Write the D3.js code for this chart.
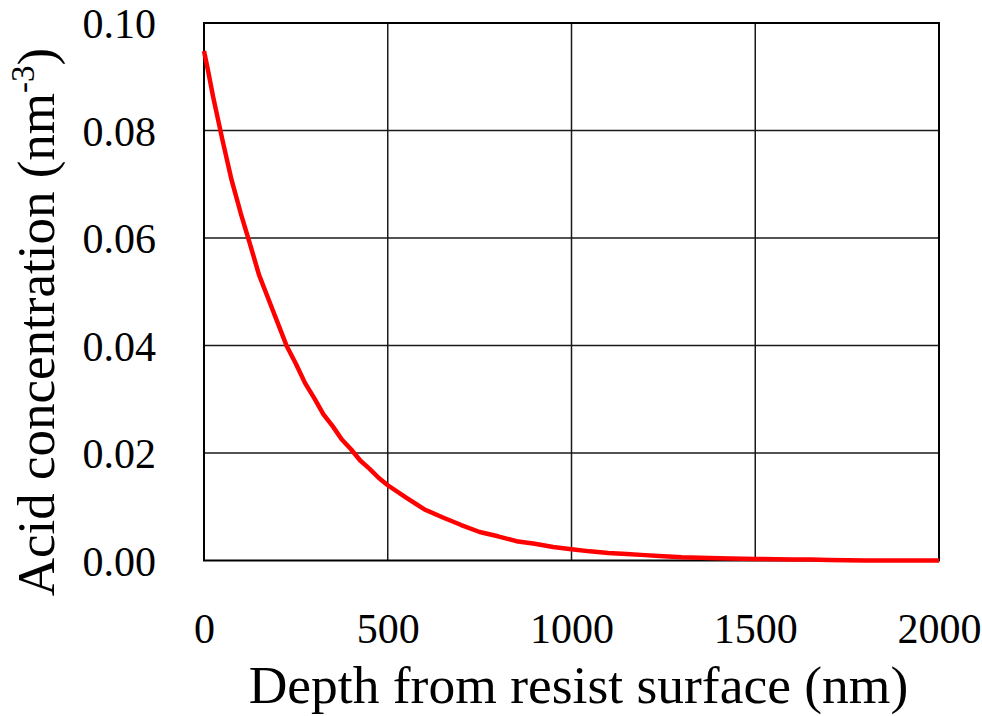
<!DOCTYPE html>
<html>
<head>
<meta charset="utf-8">
<script src="https://cdn.jsdelivr.net/npm/d3@7/dist/d3.min.js"></script>
<style>
  html, body { margin: 0; padding: 0; background: #fff; }
  svg { display: block; }
  text { font-family: "Liberation Serif", "Times New Roman", serif; fill: #000; }
</style>
</head>
<body>
<svg id="chart" width="982" height="716"></svg>
<script>
// Depth profile of acid concentration below the resist surface
const depthNm = [0, 10, 25, 50, 75, 100, 125, 150, 175, 200, 225, 250, 275, 300, 325, 350, 375, 400,
  425, 450, 475, 500, 550, 600, 650, 700, 750, 800, 850, 900, 950, 1000, 1050, 1100, 1150, 1200,
  1250, 1300, 1350, 1400, 1500, 1600, 1650, 1700, 1800, 1900, 2000];
const acidConc = [0.0948, 0.0915, 0.0862, 0.0783, 0.0708, 0.0646, 0.0589, 0.0531, 0.0487, 0.0443,
  0.0399, 0.0366, 0.0330, 0.0302, 0.0272, 0.0250, 0.0225, 0.0207, 0.0186, 0.0171, 0.0154, 0.0140,
  0.0117, 0.0095, 0.0080, 0.0066, 0.0053, 0.0045, 0.0036, 0.0031, 0.0025, 0.0021, 0.0017, 0.0014,
  0.0012, 0.0010, 0.0008, 0.0006, 0.0005, 0.0004, 0.0003, 0.0002, 0.0002, 0.0001, 0.0000, 0.0000, 0.0000];

const xTicks = [0, 500, 1000, 1500, 2000];
const yTicks = [0.00, 0.02, 0.04, 0.06, 0.08, 0.10];
const xTitle = "Depth from resist surface (nm)";
const yTitleMain = "Acid concentration (nm";
const yTitleSup = "-3";
const yTitleEnd = ")";

const svg = d3.select("#chart");
const plot = { left: 204, right: 939, top: 23, bottom: 560.5 };

const x = d3.scaleLinear().domain([0, 2000]).range([plot.left, plot.right]);
const y = d3.scaleLinear().domain([0, 0.10]).range([plot.bottom, plot.top]);

// grid lines
const grid = svg.append("g");
grid.selectAll("line.vx").data(xTicks.slice(1, -1)).join("line")
  .attr("x1", d => x(d)).attr("x2", d => x(d))
  .attr("y1", plot.top).attr("y2", plot.bottom)
  .attr("stroke", "#1a1a1a").attr("stroke-width", 1.5);
grid.selectAll("line.hy").data(yTicks.slice(1, -1)).join("line")
  .attr("x1", plot.left).attr("x2", plot.right)
  .attr("y1", d => y(d)).attr("y2", d => y(d))
  .attr("stroke", "#1a1a1a").attr("stroke-width", 1.5);

// frame
svg.append("rect")
  .attr("x", plot.left).attr("y", plot.top)
  .attr("width", plot.right - plot.left).attr("height", plot.bottom - plot.top)
  .attr("fill", "none").attr("stroke", "#000").attr("stroke-width", 2);

// curve
const line = d3.line().x((d, i) => x(depthNm[i])).y(d => y(d));
svg.append("path")
  .datum(acidConc)
  .attr("d", line)
  .attr("fill", "none")
  .attr("stroke", "#ff0000")
  .attr("stroke-width", 4.5)
  .attr("stroke-linejoin", "round");

// axes (labels only; frame and grid drawn above)
const xAxis = d3.axisBottom(x).tickValues(xTicks).tickFormat(d3.format("d")).tickSize(0).tickPadding(0);
const gx = svg.append("g").attr("transform", `translate(0,${plot.bottom})`).call(xAxis);
gx.select(".domain").remove();
gx.selectAll("text")
  .attr("dy", null).attr("y", 82)
  .style("font-family", '"Liberation Serif", serif')
  .style("font-size", "42px").attr("fill", "#000");

const yAxis = d3.axisLeft(y).tickValues(yTicks).tickFormat(d3.format(".2f")).tickSize(0).tickPadding(0);
const gy = svg.append("g").attr("transform", `translate(${plot.left},0)`).call(yAxis);
gy.select(".domain").remove();
gy.selectAll("text")
  .attr("x", -48).attr("dy", "0.35em")
  .style("font-family", '"Liberation Serif", serif')
  .style("font-size", "42px").attr("fill", "#000");

// axis titles
svg.append("text")
  .attr("x", (plot.left + plot.right) / 2 + 7).attr("y", 703)
  .attr("text-anchor", "middle")
  .style("font-size", "53.5px")
  .text(xTitle);

const yt = svg.append("text")
  .attr("transform", "translate(54,322) rotate(-90)")
  .attr("text-anchor", "middle")
  .style("font-size", "53px");
yt.append("tspan").text(yTitleMain);
yt.append("tspan").attr("dy", -20).style("font-size", "33px").text(yTitleSup);
yt.append("tspan").attr("dy", 20).text(yTitleEnd);
</script>
</body>
</html>
